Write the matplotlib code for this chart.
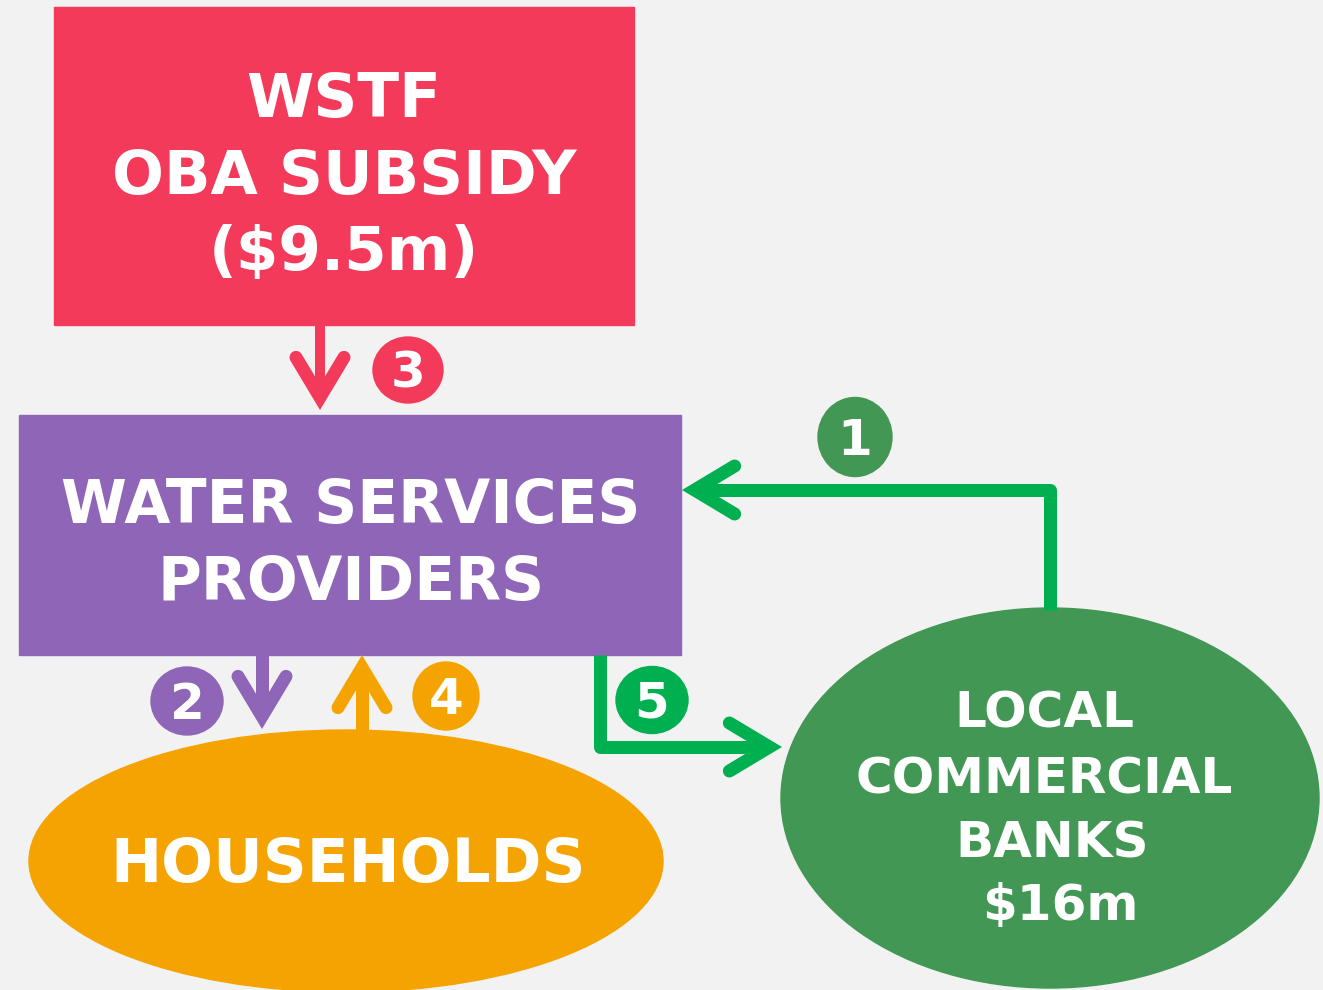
import matplotlib.pyplot as plt
from matplotlib.patches import Rectangle, Ellipse
import numpy as np

# node texts and colours
wstf_lines = ['WSTF', 'OBA SUBSIDY', '($9.5m)']
wsp_lines = ['WATER SERVICES', 'PROVIDERS']
hh_lines = ['HOUSEHOLDS']
bank_lines = ['LOCAL', 'COMMERCIAL', 'BANKS', '$16m']
step_numbers = ['1', '2', '3', '4', '5']

bg = '#f2f2f2'
red = '#f43a5a'
purple = '#8e65b7'
orange = '#f5a300'
dkgreen = '#419753'
green = '#00b050'

fig = plt.figure(figsize=(13.23, 9.9), dpi=100)
fig.patch.set_facecolor(bg)
ax = fig.add_axes([0, 0, 1, 1])
ax.set_xlim(0, 1323)
ax.set_ylim(990, 0)
ax.axis('off')
ax.set_facecolor(bg)

PX = 0.72  # points per pixel


def arrow(pts, color, lw=13, head_lw=13, back=40, half=24):
    pts = np.asarray(pts, dtype=float)
    tip = pts[-1]
    d = tip - pts[-2]
    d = d / np.hypot(*d)
    n = np.array([-d[1], d[0]])
    # miter overshoot so the point lands on the tip
    ang = np.arctan2(half, back)
    over = (head_lw / 2) / np.sin(ang)
    t = tip - d * over
    base = t - d * back
    shaft = pts.copy()
    shaft[-1] = t - d * 2
    ax.plot(shaft[:, 0], shaft[:, 1], color=color, lw=lw * PX,
            solid_joinstyle='round', solid_capstyle='butt', zorder=2)
    a1 = base + n * half
    a2 = base - n * half
    ax.plot([a1[0], t[0], a2[0]], [a1[1], t[1], a2[1]], color=color,
            lw=head_lw * PX, solid_joinstyle='miter', solid_capstyle='round', zorder=2)


def badge(x, y, w, h, color, txt):
    ax.add_patch(Ellipse((x, y), w, h, color=color, zorder=3))
    ax.text(x, y + 18, txt, color='white', fontsize=36, fontweight='bold',
            ha='center', va='baseline', zorder=4)


def lines(x, baselines, texts, size):
    for xx, b, t in zip(x, baselines, texts):
        ax.text(xx, b, t, color='white', fontsize=size, fontweight='bold',
                ha='center', va='baseline', zorder=4)


# boxes and ellipses
ax.add_patch(Rectangle((54, 7), 580, 318, color=red, zorder=1))
ax.add_patch(Rectangle((19, 415), 662, 240, color=purple, zorder=1))
ax.add_patch(Ellipse((346, 861), 634, 262, color=orange, zorder=1))
ax.add_patch(Ellipse((1050, 798), 538, 380, color=dkgreen, zorder=1))

# arrows
arrow([(320, 325), (320, 410)], red, lw=10)
arrow([(262, 655), (262, 729)], purple)
arrow([(362, 735), (362, 655)], orange)
arrow([(1050, 610), (1050, 490), (682, 490)], green)
arrow([(600, 655), (600, 747), (782, 747)], green)

# step badges
badge(855, 437, 74, 79, dkgreen, step_numbers[0])
badge(187, 701, 72, 68, purple, step_numbers[1])
badge(408, 370, 70, 66, red, step_numbers[2])
badge(446, 696, 66, 68, orange, step_numbers[3])
badge(652, 700, 72, 67, green, step_numbers[4])

# labels
lines([344] * 3, [117, 194, 270], wstf_lines, 44)
lines([351] * 2, [523, 600], wsp_lines, 43)
lines([348], [882], hh_lines, 44)
lines([1044, 1044, 1052, 1060], [728, 793, 857, 920], bank_lines, 36)

fig.savefig('out.png', dpi=100, facecolor=bg)
